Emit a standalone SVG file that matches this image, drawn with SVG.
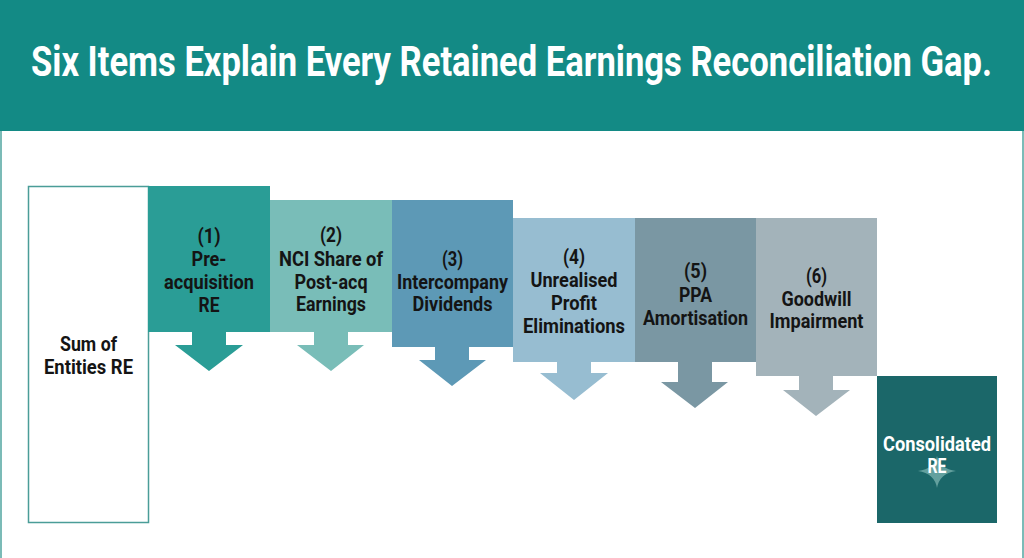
<svg xmlns="http://www.w3.org/2000/svg" width="1024" height="558" viewBox="0 0 1024 558">
<style>
.t{font-family:Roboto,"Liberation Sans",Arial,sans-serif;font-weight:700;font-size:21px;fill:#141414;text-anchor:middle}
.w{fill:#ffffff}
.title{font-family:Roboto,"Liberation Sans",Arial,sans-serif;font-weight:700;font-size:42px;fill:#ffffff;text-anchor:middle}
</style>
<rect x="0" y="0" width="1024" height="558" fill="#ffffff"/>
<rect x="1" y="120" width="1022" height="460" fill="none" stroke="#5aaba6" stroke-width="1.6"/>
<g id="header">
<rect x="0" y="0" width="1024" height="131" fill="#138a85"/>
<text class="title" x="511.5" y="76" textLength="961" lengthAdjust="spacingAndGlyphs">Six Items Explain Every Retained Earnings Reconciliation Gap.</text>
</g>
<g id="sum">
<rect x="28.5" y="186.5" width="120" height="336" fill="#ffffff" stroke="#4a9d98" stroke-width="1.5"/>
<text class="t" x="88.5" y="351" textLength="57" lengthAdjust="spacingAndGlyphs">Sum of</text>
<text class="t" x="88.5" y="374" textLength="89" lengthAdjust="spacingAndGlyphs">Entities RE</text>
</g>
<g id="connectors">
<path d="M192,331 H226 V345 H243 L209,371 L175,345 H192 Z" fill="#2a9d96"/>
<path d="M314,331 H348 V345 H364 L331,371 L297,345 H314 Z" fill="#79bdb8"/>
<path d="M435,346 H469 V360 H486 L452,386 L419,360 H435 Z" fill="#5d99b6"/>
<path d="M557,361 H591 V373 H608 L574,400 L540,373 H557 Z" fill="#97bdd1"/>
<path d="M678,361 H712 V382 H728 L695,408 L661,382 H678 Z" fill="#7a97a3"/>
<path d="M799,375 H833 V390 H850 L816,416 L783,390 H799 Z" fill="#a3b3ba"/>
</g>
<g id="item1">
<rect x="148" y="186" width="122" height="146" fill="#2a9d96"/>
<text class="t" x="209" y="243" textLength="23" lengthAdjust="spacingAndGlyphs">(1)</text>
<text class="t" x="209" y="266" textLength="35" lengthAdjust="spacingAndGlyphs">Pre-</text>
<text class="t" x="209" y="289" textLength="90" lengthAdjust="spacingAndGlyphs">acquisition</text>
<text class="t" x="209" y="312" textLength="21" lengthAdjust="spacingAndGlyphs">RE</text>
</g>
<g id="item2">
<rect x="270" y="200" width="122" height="132" fill="#79bdb8"/>
<text class="t" x="331" y="242" textLength="22" lengthAdjust="spacingAndGlyphs">(2)</text>
<text class="t" x="331" y="266" textLength="104" lengthAdjust="spacingAndGlyphs">NCI Share of</text>
<text class="t" x="331" y="289" textLength="73" lengthAdjust="spacingAndGlyphs">Post-acq</text>
<text class="t" x="331" y="311" textLength="70" lengthAdjust="spacingAndGlyphs">Earnings</text>
</g>
<g id="item3">
<rect x="392" y="200" width="121" height="147" fill="#5d99b6"/>
<text class="t" x="452.5" y="266" textLength="21" lengthAdjust="spacingAndGlyphs">(3)</text>
<text class="t" x="452.5" y="289" textLength="111" lengthAdjust="spacingAndGlyphs">Intercompany</text>
<text class="t" x="452.5" y="311" textLength="80" lengthAdjust="spacingAndGlyphs">Dividends</text>
</g>
<g id="item4">
<rect x="513" y="218" width="122" height="144" fill="#97bdd1"/>
<text class="t" x="574" y="264" textLength="22" lengthAdjust="spacingAndGlyphs">(4)</text>
<text class="t" x="574" y="287" textLength="87" lengthAdjust="spacingAndGlyphs">Unrealised</text>
<text class="t" x="574" y="310" textLength="46" lengthAdjust="spacingAndGlyphs">Profit</text>
<text class="t" x="574" y="333" textLength="102" lengthAdjust="spacingAndGlyphs">Eliminations</text>
</g>
<g id="item5">
<rect x="635" y="218" width="121" height="144" fill="#7a97a3"/>
<text class="t" x="695.5" y="278" textLength="23" lengthAdjust="spacingAndGlyphs">(5)</text>
<text class="t" x="695.5" y="302" textLength="33" lengthAdjust="spacingAndGlyphs">PPA</text>
<text class="t" x="695.5" y="325" textLength="105" lengthAdjust="spacingAndGlyphs">Amortisation</text>
</g>
<g id="item6">
<rect x="756" y="218" width="121" height="158" fill="#a3b3ba"/>
<text class="t" x="816.5" y="283" textLength="21" lengthAdjust="spacingAndGlyphs">(6)</text>
<text class="t" x="816.5" y="306" textLength="70" lengthAdjust="spacingAndGlyphs">Goodwill</text>
<text class="t" x="816.5" y="328" textLength="94" lengthAdjust="spacingAndGlyphs">Impairment</text>
</g>
<g id="consolidated">
<rect x="877" y="376" width="120" height="147" fill="#1b6769"/>
<path d="M937,456 Q939.5,468.5 956,471 Q939.5,473.5 937,488 Q934.5,473.5 918,471 Q934.5,468.5 937,456 Z" fill="#9fcfcb" opacity="0.55"/>
<text class="t w" x="937" y="451" textLength="108" lengthAdjust="spacingAndGlyphs">Consolidated</text>
<text class="t w" x="937" y="473" textLength="19" lengthAdjust="spacingAndGlyphs">RE</text>
</g>
</svg>
